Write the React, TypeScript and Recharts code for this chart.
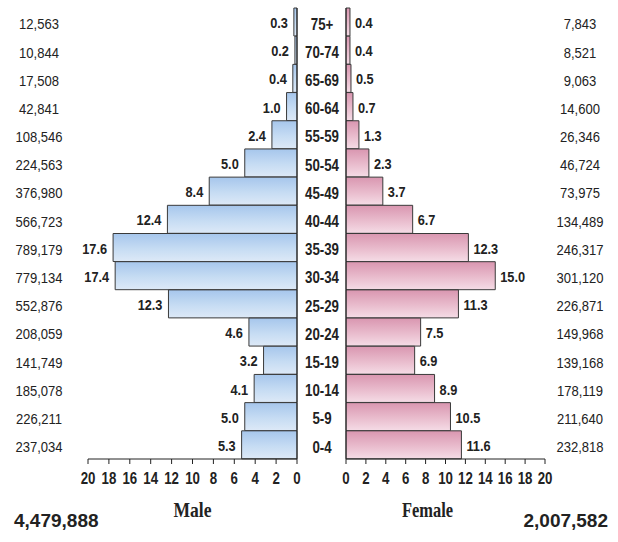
import { BarChart, Bar, XAxis, YAxis, LabelList, ReferenceLine } from "recharts";

const ages = ["75+", "70-74", "65-69", "60-64", "55-59", "50-54", "45-49", "40-44", "35-39", "30-34", "25-29", "20-24", "15-19", "10-14", "5-9", "0-4"];
const malePct = [0.3, 0.2, 0.4, 1.0, 2.4, 5.0, 8.4, 12.4, 17.6, 17.4, 12.3, 4.6, 3.2, 4.1, 5.0, 5.3];
const femalePct = [0.4, 0.4, 0.5, 0.7, 1.3, 2.3, 3.7, 6.7, 12.3, 15.0, 11.3, 7.5, 6.9, 8.9, 10.5, 11.6];
const maleCount = ["12,563", "10,844", "17,508", "42,841", "108,546", "224,563", "376,980", "566,723", "789,179", "779,134", "552,876", "208,059", "141,749", "185,078", "226,211", "237,034"];
const femaleCount = ["7,843", "8,521", "9,063", "14,600", "26,346", "46,724", "73,975", "134,489", "246,317", "301,120", "226,871", "149,968", "139,168", "178,119", "211,640", "232,818"];
const pctTicks = [0, 2, 4, 6, 8, 10, 12, 14, 16, 18, 20];
const maleTotal = "4,479,888";
const femaleTotal = "2,007,582";

const maleRows = ages.map((age, i) => ({ age, value: malePct[i] }));
const femaleRows = ages.map((age, i) => ({ age, value: femalePct[i] }));

const sans = "'Liberation Sans', Arial, sans-serif";
const serif = "'Liberation Serif', 'Times New Roman', serif";
const ink = "#222";

// the original uses a condensed grotesque, so squeeze Liberation Sans sideways
function CText(props: any) {
  const { x, y, sx = 1, anchor = "middle", size = 14, weight = 400, dy = "0.35em", children } = props;
  return (
    <text transform={`translate(${x},${y}) scale(${sx},1)`} textAnchor={anchor} dy={dy}
      fontSize={size} fontWeight={weight} fontFamily={sans} fill={ink}>
      {children}
    </text>
  );
}

function PctTick(props: any) {
  const { x, y, payload } = props;
  return <CText x={x} y={y} dy="0.71em" sx={0.78} size={17} weight={700}>{payload.value}</CText>;
}

function AgeTick(props: any) {
  const { x, y, payload } = props;
  return <CText x={x} y={y + 2} sx={0.83} size={16} weight={700}>{payload.value}</CText>;
}

function CountTick(props: any) {
  const { x, y, index, list } = props;
  return <CText x={x} y={y + 2} sx={0.87} size={15}>{list[index]}</CText>;
}

function MaleValue(props: any) {
  const { x, y, width, height, value } = props;
  const left = Math.min(x, x + width);
  return <CText x={left - 6} y={y + height / 2 + 1} anchor="end" sx={0.88} size={14.5} weight={700}>{Number(value).toFixed(1)}</CText>;
}

function FemaleValue(props: any) {
  const { x, y, width, height, value } = props;
  const right = Math.max(x, x + width);
  return <CText x={right + 5} y={y + height / 2 + 1} anchor="start" sx={0.88} size={14.5} weight={700}>{Number(value).toFixed(1)}</CText>;
}

function AxisTitle(props: any) {
  const { viewBox, text, len, shift } = props;
  if (!viewBox) return null;
  return (
    <text x={viewBox.x + viewBox.width / 2 + shift} y={viewBox.y + 58} textAnchor="middle"
      textLength={len} lengthAdjust="spacingAndGlyphs"
      fontSize={21} fontWeight={700} fontFamily={serif} fill={ink}>
      {text}
    </text>
  );
}

export default function App() {
  return (
    <div style={{ position: "absolute", left: 0, top: 0, width: 618, height: 542, background: "#fff" }}>
      <div style={{ position: "absolute", left: 0, top: 0 }}>
        <BarChart width={305} height={542} data={maleRows} layout="vertical"
          barCategoryGap={0} margin={{ top: 8, right: 8, bottom: 0, left: 0 }}>
          <defs>
            <linearGradient id="maleFill" x1="0" y1="0" x2="0" y2="1">
              <stop offset="0%" stopColor="#a6c6ec" />
              <stop offset="55%" stopColor="#c6dcf3" />
              <stop offset="100%" stopColor="#dde9f7" />
            </linearGradient>
          </defs>
          <XAxis type="number" domain={[0, 20]} ticks={pctTicks} interval={0} reversed
            height={83} tickSize={5} tickMargin={8} tick={<PctTick />}
            stroke={ink} label={<AxisTitle text="Male" len={38} shift={0} />} />
          <YAxis type="category" dataKey="age" width={88} axisLine={false} tickLine={false}
            tickSize={0} tickMargin={49} interval={0} tick={<CountTick list={maleCount} />} />
          <ReferenceLine x={0} stroke={ink} />
          <Bar dataKey="value" fill="url(#maleFill)" stroke="#3a3a3a" strokeWidth={1} isAnimationActive={false}>
            <LabelList dataKey="value" content={<MaleValue />} />
          </Bar>
        </BarChart>
      </div>
      <div style={{ position: "absolute", left: 300, top: 0 }}>
        <BarChart width={318} height={542} data={femaleRows} layout="vertical"
          barCategoryGap={0} margin={{ top: 8, right: 0, bottom: 0, left: 0 }}>
          <defs>
            <linearGradient id="femaleFill" x1="0" y1="0" x2="0" y2="1">
              <stop offset="0%" stopColor="#d996b0" />
              <stop offset="55%" stopColor="#e9bccd" />
              <stop offset="100%" stopColor="#f5dce6" />
            </linearGradient>
          </defs>
          <XAxis type="number" domain={[0, 20]} ticks={pctTicks} interval={0}
            height={83} tickSize={5} tickMargin={8} tick={<PctTick />}
            stroke={ink} label={<AxisTitle text="Female" len={51} shift={-18} />} />
          <YAxis yAxisId={0} type="category" dataKey="age" width={46} tickLine={false}
            stroke={ink} tickSize={0} tickMargin={24} interval={0} tick={<AgeTick />} />
          <YAxis yAxisId={1} orientation="right" type="category" dataKey="age" width={73}
            axisLine={false} tickLine={false} tickSize={0} tickMargin={35} interval={0}
            tick={<CountTick list={femaleCount} />} />
          <Bar dataKey="value" yAxisId={0} fill="url(#femaleFill)" stroke="#3a3a3a" strokeWidth={1} isAnimationActive={false}>
            <LabelList dataKey="value" content={<FemaleValue />} />
          </Bar>
        </BarChart>
      </div>
      <div style={{ position: "absolute", left: 14, top: 510, fontFamily: sans, fontWeight: 700, fontSize: 19, color: ink, lineHeight: "22px" }}>
        {maleTotal}
      </div>
      <div style={{ position: "absolute", right: 10, top: 510, fontFamily: sans, fontWeight: 700, fontSize: 19, color: ink, lineHeight: "22px" }}>
        {femaleTotal}
      </div>
    </div>
  );
}
